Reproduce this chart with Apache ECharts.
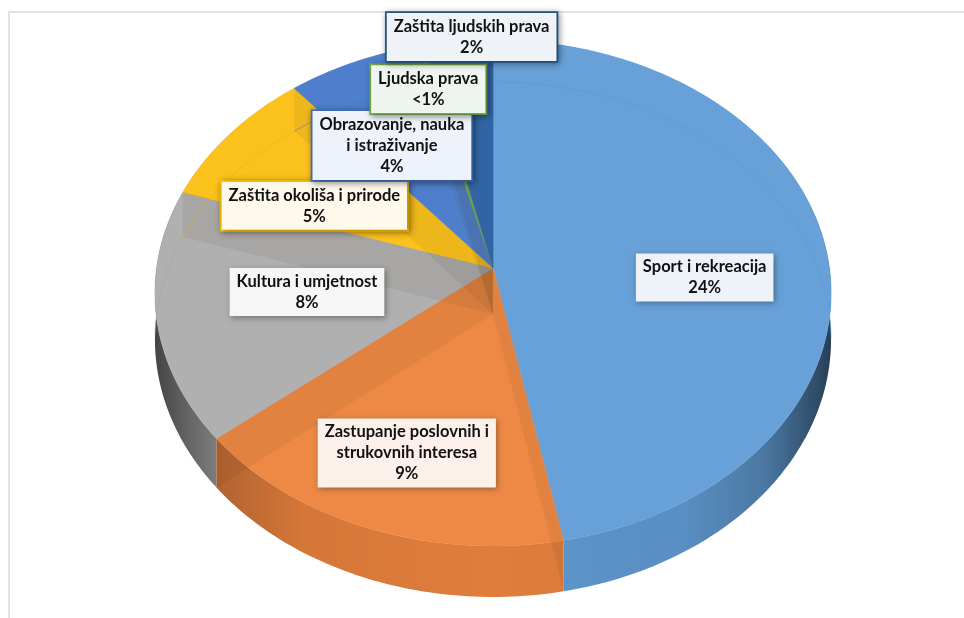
<!DOCTYPE html>
<html><head><meta charset="utf-8">
<script src="https://cdn.jsdelivr.net/npm/echarts@6/dist/echarts.min.js"></script>
<style>html,body{margin:0;padding:0;background:#fff}#c{width:964px;height:618px}</style>
</head><body><div id="c"></div>
<script>
// ---- data ----
const categories = ['Sport i rekreacija', 'Zastupanje poslovnih i\nstrukovnih interesa', 'Kultura i umjetnost',
  'Zaštita okoliša i prirode', 'Obrazovanje, nauka\ni istraživanje', 'Ljudska prava', 'Zaštita ljudskih prava'];
const values = [24.0, 8.7, 8.2, 4.6, 3.6, 0.2, 1.8];
const percentLabels = ['24%', '9%', '8%', '5%', '4%', '<1%', '2%'];

// ---- styles ----
const topColors = ['#67a1d8', '#ee8945', '#b0b0b0', '#fbc11c', '#4f7fcc', '#70ad47', '#3164a4'];
const wallColors = ['#5e96cc', '#e07d3c', '#a2a2a2', '#eab314', '#4574bd', '#62993d', '#2a5891'];
const boxBg = ['#eef3fa', '#fcf0ea', '#f6f6f6', '#fff9ec', '#eef2fa', '#eef4ee', '#eff3f8'];
const boxBorder = [null, null, null, '#ffc000', '#4472c4', '#70ad47', '#255e91'];
// label placement in the pie's own frame: radius fraction and angular shift (deg)
const labelRadius = [0.628, 0.729, 0.556, 0.601, 0.603, 0.795, 1.017];
const labelShift = [8.9, -0.6, 0.9, -9.3, -4.8, -1.7, 2.4];

// ---- projection of the tilted disk ----
const CX = 493, CY = 268, AX = 336.4, AY = 250.5, P = 0.0987, H = 46;
function proj(r, deg, d) {
  const t = deg * Math.PI / 180;
  const u = r * Math.sin(t), v = -r * Math.cos(t);
  const w = 1 - P * v;
  return [CX + AX * u / w, CY + AY * v / w + d / w];
}
const total = values.reduce((a, b) => a + b, 0);
const cum = []; values.reduce((a, b, i) => { cum[i] = a; return a + b; }, 0);

function shade(hex, f) {
  const n = parseInt(hex.slice(1), 16);
  const r = Math.round(((n >> 16) & 255) * f), g = Math.round(((n >> 8) & 255) * f), b = Math.round((n & 255) * f);
  return 'rgb(' + r + ',' + g + ',' + b + ')';
}
function rgba(hex, a) {
  const n = parseInt(hex.slice(1), 16);
  return 'rgba(' + ((n >> 16) & 255) + ',' + ((n >> 8) & 255) + ',' + (n & 255) + ',' + a + ')';
}
function wallFill(i) {
  const c = wallColors[i];
  return new echarts.graphic.LinearGradient(CX - AX * 1.006, 0, CX + AX * 1.006, 0, [
    { offset: 0, color: shade(c, 0.42) }, { offset: 0.04, color: shade(c, 0.58) },
    { offset: 0.1, color: shade(c, 0.8) }, { offset: 0.22, color: shade(c, 0.95) },
    { offset: 0.5, color: shade(c, 1) }, { offset: 0.78, color: shade(c, 0.95) },
    { offset: 0.9, color: shade(c, 0.8) }, { offset: 0.96, color: shade(c, 0.58) },
    { offset: 1, color: shade(c, 0.42) }], true);
}

const chart = echarts.init(document.getElementById('c'), null, { renderer: 'canvas' });
chart.setOption({
  backgroundColor: '#ffffff',
  animation: false,
  graphic: [{ type: 'rect', shape: { x: 9, y: 12, width: 1100, height: 800 },
    style: { fill: 'none', stroke: '#d9d9d9', lineWidth: 1.5 }, z: -10 }],
  series: [{
    type: 'custom',
    coordinateSystem: 'none',
    data: values.map(v => [v]),
    renderItem(params, api) {
      const i = params.dataIndex;
      const val = api.value(0);
      const a0 = cum[i] / total * 360, a1 = (cum[i] + val) / total * 360;
      const n = Math.max(2, Math.ceil(a1 - a0));
      const rim = [], bot = [], hiddenBot = [];
      for (let k = 0; k <= n; k++) {
        const a = a0 + (a1 - a0) * k / n;
        rim.push(proj(1, a, 0));
        bot.push(proj(1, a, H));
        if (-Math.cos(a * Math.PI / 180) < P) hiddenBot.push(proj(1, a, H));
      }
      const mid = (a0 + a1) / 2;
      const vmid = -Math.cos(mid * Math.PI / 180);
      const children = [];
      // outer wall
      children.push({ type: 'polygon', shape: { points: rim.concat(bot.slice().reverse()) },
        style: { fill: wallFill(i), stroke: null }, z2: 5 + vmid });
      // top face
      children.push({ type: 'polygon', shape: { points: [proj(0, 0, 0)].concat(rim) },
        style: { fill: topColors[i], stroke: topColors[i], lineWidth: 0.6, lineJoin: 'round' }, z2: 20 });
      // translucent hint of the radial wall at this slice's start edge
      const prev = (i + values.length - 1) % values.length;
      children.push({ type: 'polygon',
        shape: { points: [proj(0, a0, 0), proj(1, a0, 0), proj(1, a0, H), proj(0, a0, H)] },
        style: { fill: 'rgba(60,40,20,0.07)', stroke: null }, z2: 25 });
      // far bottom rim seen through the top
      if (hiddenBot.length > 1) {
        children.push({ type: 'polyline', shape: { points: hiddenBot },
          style: { stroke: rgba(wallColors[i], 0.5), lineWidth: 1, fill: null }, z2: 26 });
      }
      // label
      const lp = proj(labelRadius[i], mid + labelShift[i], 0);
      const st = {
        text: categories[i] + '\n' + percentLabels[i],
        align: 'center', verticalAlign: 'middle',
        fontFamily: 'Lato', fontWeight: 'bold', fontSize: 16.5, lineHeight: 21,
        fill: '#111111',
        backgroundColor: boxBg[i],
        padding: [3, 7, 3, 7],
        shadowColor: 'rgba(0,0,0,0.35)', shadowBlur: 6, shadowOffsetX: 1.5, shadowOffsetY: 1.5
      };
      if (boxBorder[i]) { st.borderColor = boxBorder[i]; st.borderWidth = 1.8; }
      children.push({ type: 'text', x: lp[0], y: lp[1], style: st, z2: 100 });
      return { type: 'group', children };
    }
  }]
});
</script></body></html>
